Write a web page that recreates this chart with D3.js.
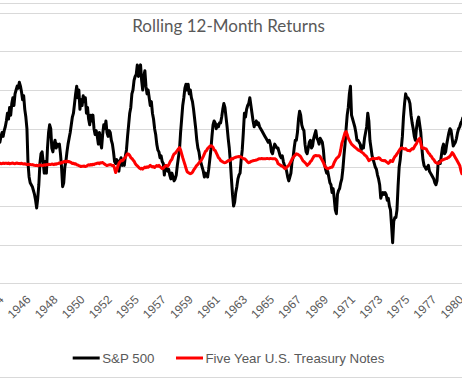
<!DOCTYPE html>
<html>
<head>
<meta charset="utf-8">
<script src="https://cdn.jsdelivr.net/npm/d3@7"></script>
<style>
    body { margin: 0; background: #fff; }
    svg { display: block; }
</style>
</head>
<body>
<div id="chart"></div>
<script>
// monthly rolling 12-month returns (%), first row starts Jun 1944
var startMonth = new Date(1944, 5, 1);

var sp500 = [
    [15, 13, 16, 18, 16, 19, 21],
    [24, 28, 25, 31, 27, 33, 36, 32, 38, 40, 42, 41],
    [44, 42, 39, 35, 37, 30, 26, 20, 2, -5, -8, -9],
    [-10, -12, -14, -17, -21, -16, -9, 2, 7, 8, 3, -3],
    [3, -3, 10, 18, 22, 20, 10, 8, 12, 14, 10, 12],
    [11, 12, 7, 0, -10, -8, 0, 3, 8, 12, 15, 18],
    [22, 26, 28, 33, 38, 42, 36, 40, 30, 35, 32, 37],
    [34, 36, 28, 31, 25, 22, 27, 24, 27, 20, 17, 19],
    [16, 12, 18, 13, 10, 17, 22, 20, 24, 18, 16, 19],
    [18, 14, 12, 8, 3, 2, 4, 3, -2, 3, 5, 1],
    [3, 1, 6, 9, 16, 22, 28, 31, 38, 40, 45, 47],
    [48, 53, 47, 50, 53, 45, 40, 47, 50, 42, 38, 40],
    [36, 32, 34, 28, 25, 20, 17, 12, 9, 8, 5, 6],
    [3, 2, -4, 1, 0, -2, -1, -4, -6, -3, -5, -7],
    [-6, -4, 1, 5, 9, 18, 25, 32, 36, 41, 43, 40],
    [43, 38, 40, 36, 34, 30, 25, 20, 14, 10, 8, 4],
    [2, 0, -2, -5, -3, -4, -5, -1, 4, 9, 16, 22],
    [24, 23, 20, 22, 21, 23, 23, 26, 30, 33, 31, 26],
    [21, 15, 10, 3, -6, -14, -20, -18, -13, -10, -6, -4],
    [-3, 4, 9, 18, 28, 26, 30, 32, 33, 36, 32, 28],
    [24, 21, 23, 24, 22, 23, 21, 20, 19, 18, 17, 16],
    [15, 14, 13, 14, 12, 8, 7, 10, 12, 11, 10, 10],
    [8, 6, 5, 6, 3, 1, 0, -2, -5, -7, -5, -3],
    [3, 5, 10, 14, 14, 18, 25, 29, 27, 22, 20, 19],
    [12, 8, 7, 10, 13, 14, 10, 11, 15, 17, 19, 15],
    [14, 12, 15, 14, 13, 9, 2, -1, -3, -2, -5, -8],
    [-9, -13, -11, -16, -22, -24, -14, -12, -11, -8, -6, -1],
    [6, 12, 20, 27, 31, 38, 42, 27, 25, 23, 21, 18],
    [14, 14, 13, 12, 9, 11, 10, 15, 18, 21, 28, 24],
    [14, 10, 6, 4, 2, 0, -1, -4, -6, -9, -16, -14],
    [-13, -14, -13, -14, -17, -16, -20, -22, -30, -39, -28, -26],
    [-26, -22, -10, 0, 4, 10, 16, 26, 33, 38, 36, 36],
    [35, 33, 27, 23, 20, 16, 14, 20, 24, 26, 22, 18],
    [10, 4, 1, 0, -1, 0, 1, -2, -3, -4, -5, -6],
    [-8, -9, -7, 2, 3, 2, 6, 10, 12, 7, 8, 12],
    [15, 18, 20, 19, 15, 11, 12, 13, 15, 18, 20, 21],
    [23, 24, 26]
];

var treasury = [
    [2.0, 2.1, 1.9, 2.0, 2.2, 2.0, 2.1],
    [2.1, 2.0, 2.2, 1.9, 2.0, 2.1, 2.2, 2.0, 1.9, 2.1, 2.2, 2.0],
    [2.0, 1.9, 2.1, 1.8, 1.7, 1.9, 1.6, 1.5, 1.6, 1.4, 1.5, 1.3],
    [1.4, 1.2, 1.0, 0.9, 1.1, 0.8, 1.0, 1.2, 1.1, 0.9, 1.0, 1.3],
    [1.1, 1.4, 1.3, 1.6, 1.4, 1.5, 1.7, 1.6, 1.4, 1.8, 1.6, 1.9],
    [2.0, 2.3, 2.1, 2.6, 2.4, 2.9, 3.1, 2.8, 3.2, 2.9, 3.0, 2.7],
    [2.4, 2.0, 2.1, 1.7, 1.9, 1.3, 1.2, 0.9, 0.7, 0.4, 0.6, 0.5],
    [0.7, 0.4, 0.6, 1.0, 1.3, 1.1, 1.5, 1.2, 1.6, 1.4, 1.8, 1.9],
    [2.1, 2.2, 1.9, 2.4, 2.3, 2.5, 2.0, 1.6, 1.2, 0.9, 1.1, 1.3],
    [1.4, 1.2, 0.9, 1.0, -0.5, -2.7, -1.5, 0.5, 2.0, 2.8, 3.5, 3.4],
    [3.8, 4.6, 5.2, 6.3, 7.0, 6.8, 6.1, 5.0, 4.6, 3.8, 3.2, 2.1],
    [1.3, 0.8, 0.2, -0.4, -0.8, -0.5, -0.9, -0.3, 0.1, -0.2, 0.3, 0.0],
    [0.4, 1.0, 0.6, 0.2, 0.4, -0.1, 0.5, 0.9, 0.6, 1.0, 0.3, -0.2],
    [-0.7, -0.4, 0.2, 0.8, 1.0, 0.6, 1.2, 2.5, 3.5, 4.2, 5.8, 7.0],
    [7.2, 8.0, 8.7, 9.5, 10.2, 9.0, 7.0, 5.0, 3.2, 1.5, -0.5, -2.2],
    [-2.7, -3.0, -3.3, -3.1, -2.5, -1.5, -0.7, 0.2, 1.0, 1.5, 2.3, 3.0],
    [3.5, 4.5, 5.7, 7.0, 8.2, 8.7, 9.7, 10.3, 10.8, 11.2, 11.0, 10.3],
    [9.0, 8.7, 7.5, 6.3, 5.0, 4.5, 3.5, 3.2, 2.8, 2.5, 2.4, 2.6],
    [3.0, 3.5, 3.4, 3.8, 4.5, 4.3, 4.8, 5.0, 5.2, 5.4, 5.5, 5.6],
    [5.5, 5.3, 4.9, 4.5, 4.5, 4.0, 3.4, 2.8, 2.4, 2.6, 3.0, 3.2],
    [3.4, 3.5, 3.6, 3.8, 4.0, 4.3, 4.5, 4.4, 4.6, 4.4, 4.5, 4.5],
    [4.5, 4.6, 4.5, 4.4, 4.6, 4.5, 4.4, 4.5, 4.5, 4.2, 3.5, 2.0],
    [1.6, 1.2, 0.8, 0.6, 0.2, -0.4, -0.7, 0.0, 0.6, 1.0, 2.0, 3.0],
    [4.2, 5.0, 5.8, 6.3, 7.0, 6.8, 6.5, 6.0, 5.5, 4.5, 3.5, 3.0],
    [2.4, 1.8, 1.0, 1.5, 2.0, 3.0, 3.5, 4.5, 5.5, 6.0, 6.1, 6.0],
    [6.0, 6.0, 5.5, 4.5, 3.5, 2.5, 1.0, 0.0, -0.3, -0.7, -0.5, -0.2],
    [0.0, 0.0, 1.0, 2.5, 3.5, 4.5, 5.0, 5.5, 6.5, 9.0, 12.3, 14.0],
    [16.0, 18.0, 18.5, 17.0, 15.0, 14.0, 13.0, 12.0, 11.5, 11.0, 10.5, 10.0],
    [9.5, 9.0, 8.7, 8.5, 8.0, 7.6, 7.2, 6.5, 6.0, 5.5, 4.5, 3.5],
    [3.8, 4.2, 4.5, 4.7, 4.5, 4.4, 4.6, 4.5, 5.0, 4.8, 4.0, 3.6],
    [3.5, 3.4, 3.5, 3.0, 2.5, 2.0, 2.5, 3.5, 3.2, 3.0, 4.5, 5.5],
    [6.0, 7.0, 7.8, 8.7, 9.5, 10.0, 10.0, 9.7, 9.5, 9.7, 9.0, 8.7],
    [8.7, 8.5, 9.2, 9.7, 9.5, 10.5, 11.5, 12.3, 13.5, 14.5, 15.0, 12.5],
    [10.0, 9.8, 10.0, 9.7, 9.5, 8.5, 7.5, 7.0, 6.0, 5.5, 4.5, 4.0],
    [3.0, 2.4, 2.2, 2.0, 2.4, 2.8, 3.5, 3.8, 4.0, 4.2, 4.5, 4.6],
    [5.0, 5.2, 5.8, 6.5, 7.6, 7.0, 6.0, 5.0, 4.0, 3.0, 2.0, 1.0],
    [-1.5, -3.3, -2.0]
];

var yTicks = [-60, -40, -20, 0, 20, 40, 60, 80];
var seriesNames = ["S&P 500", "Five Year U.S. Treasury Notes"];
var seriesColors = ["#000000", "#ff0000"];
var labelEvery = 25;      // Excel category axis: one label every 25 months
var firstLabel = 2;       // Aug 1944

var width = 462, height = 386;
var monthPx = 1.082;
var plotTop = 12.7, plotBottom = 283.3;

var spFlat = d3.merge(sp500);
var tyFlat = d3.merge(treasury);
var months = spFlat.map(function(d, i) { return d3.timeMonth.offset(startMonth, i); });

var x = d3.scalePoint()
    .domain(months)
    .range([-1.2, -1.2 + (months.length - 1) * monthPx]);

var y = d3.scaleLinear()
    .domain([d3.min(yTicks), d3.max(yTicks)])
    .range([plotBottom, plotTop]);

var svg = d3.select("#chart").append("svg")
    .attr("width", width)
    .attr("height", height);

svg.append("rect")
    .attr("width", width).attr("height", height)
    .attr("fill", "#fff");

// chart border (left and right edges are outside the crop)
svg.append("rect")
    .attr("x", -2).attr("y", 3.5)
    .attr("width", width + 4).attr("height", 374)
    .attr("fill", "none")
    .attr("stroke", "#d9d9d9");

svg.append("g")
    .attr("class", "grid")
    .selectAll("line")
    .data(yTicks)
    .enter().append("line")
        .attr("x1", 0).attr("x2", width)
        .attr("y1", function(d) { return Math.round(y(d)) + 0.5; })
        .attr("y2", function(d) { return Math.round(y(d)) + 0.5; })
        .attr("stroke", "#d9d9d9")
        .attr("stroke-width", 1);

svg.append("text")
    .attr("x", 228.5)
    .attr("y", 31.5)
    .attr("text-anchor", "middle")
    .style("font-family", "Lato, 'Open Sans', sans-serif")
    .style("font-size", "17px")
    .style("fill", "#595959")
    .text("Rolling 12-Month Returns");

var line = d3.line()
    .x(function(d, i) { return x(months[i]); })
    .y(function(d) { return y(d); });

var seriesData = [spFlat, tyFlat];
// draw treasury first so the red line sits on top like the original
[0, 1].forEach(function(k) {
    svg.append("path")
        .datum(seriesData[k])
        .attr("fill", "none")
        .attr("stroke", seriesColors[k])
        .attr("stroke-width", 3)
        .attr("stroke-linejoin", "round")
        .attr("d", line);
});

var xAxis = d3.axisBottom(x)
    .tickValues(months.filter(function(d, i) { return i >= firstLabel && (i - firstLabel) % labelEvery === 0; }))
    .tickFormat(d3.timeFormat("%Y"))
    .tickSize(0);

var ax = svg.append("g")
    .attr("transform", "translate(0," + plotBottom + ")")
    .call(xAxis);
ax.select(".domain").remove();
ax.selectAll("text")
    .attr("x", 0).attr("y", 0)
    .attr("dy", "0.35em")
    .attr("text-anchor", "end")
    .attr("transform", "translate(0,14) rotate(-45)")
    .style("font-family", "'Liberation Sans', Arial, sans-serif")
    .style("font-size", "12px")
    .style("fill", "#595959");

var legend = svg.append("g")
    .attr("class", "legend");
var legendX = [72.7, 176];
seriesNames.forEach(function(name, k) {
    legend.append("line")
        .attr("x1", legendX[k]).attr("x2", legendX[k] + 27)
        .attr("y1", 358).attr("y2", 358)
        .attr("stroke", seriesColors[k])
        .attr("stroke-width", 3);
    legend.append("text")
        .attr("x", legendX[k] + 29.5)
        .attr("y", 362.8)
        .style("font-family", "'Liberation Sans', Arial, sans-serif")
        .style("font-size", "13.3px")
        .style("fill", "#595959")
        .text(name);
});
</script>
</body>
</html>
